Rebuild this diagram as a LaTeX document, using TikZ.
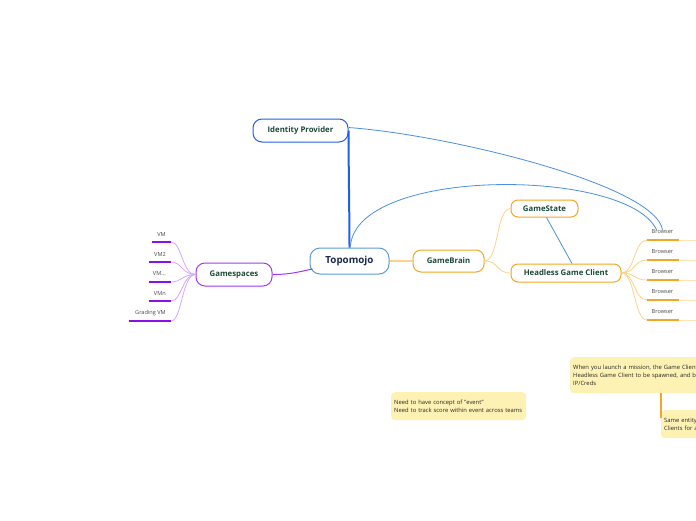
\documentclass[tikz,border=0pt]{standalone}
\usepackage{fontspec}
\setmainfont{Open Sans}
\definecolor{tgreen}{HTML}{1C4A3A}
\definecolor{tnavy}{HTML}{1B2A4E}
\definecolor{idblue}{HTML}{1F5FF0}
\definecolor{topoblue}{HTML}{5B9BD5}
\definecolor{lblue}{HTML}{4A90E2}
\definecolor{orng}{HTML}{F5A623}
\definecolor{lorng}{HTML}{FBD38D}
\definecolor{llorng}{HTML}{FDE3B8}
\definecolor{purp}{HTML}{A238F5}
\definecolor{dpurp}{HTML}{8A10E6}
\definecolor{lpurp}{HTML}{D9A6FF}
\definecolor{notey}{HTML}{FDF2B3}
\definecolor{leafgray}{HTML}{4A4A4A}
\begin{document}
\begin{tikzpicture}[x=1pt,y=-1pt,
  topic/.style={draw, fill=white, line width=1pt, rounded corners=8pt, inner sep=0pt,
    font=\bfseries\fontsize{7.8}{9}\selectfont, text=tgreen},
  leaf/.style={inner sep=0pt, font=\fontsize{5.6}{7}\selectfont, text=leafgray},
  note/.style={fill=notey, rounded corners=4pt, anchor=north west, align=left,
    inner xsep=3pt, inner ysep=0pt, font=\fontsize{5.85}{8}\selectfont, text=black!85},
  bline/.style={draw=orng, line width=1.5pt},
  bline2/.style={draw=llorng, line width=1pt},
  vline/.style={draw=dpurp, line width=1.3pt}
]
\useasboundingbox (0,0) rectangle (696,520);
\clip (0,0) rectangle (696,520);
\fill[white] (0,0) rectangle (696,520);

% main nodes
\node[topic, draw=topoblue, minimum width=79pt, minimum height=26pt, rounded corners=10pt,
  font=\bfseries\fontsize{9.8}{11}\selectfont, text=tnavy] (topo) at (349.5,261) {Topomojo};
\node[topic, draw=idblue, minimum width=95pt, minimum height=23pt, rounded corners=9pt] (idp) at (300.5,130.5) {Identity Provider};
\node[topic, draw=orng, minimum width=71pt, minimum height=22pt, rounded corners=8pt] (gb) at (448.5,261) {GameBrain};
\node[topic, draw=orng, minimum width=67pt, minimum height=17pt, rounded corners=7pt] (gs) at (544.5,208.5) {GameState};
\node[topic, draw=orng, minimum width=110pt, minimum height=18pt, rounded corners=7pt] (hgc) at (566,273) {Headless Game Client};
\node[topic, draw=purp, minimum width=76pt, minimum height=23pt, rounded corners=9pt] (gsp) at (234,274.5) {Gamespaces};

% VM leaves
\node[leaf, anchor=east] (v1) at (166,234) {VM};
\node[leaf, anchor=east] (v2) at (166,254) {VM2};
\node[leaf, anchor=east] (v3) at (166,274) {VM...};
\node[leaf, anchor=east] (v4) at (166,293) {VMn};
\node[leaf, anchor=east] (v5) at (166,313) {Grading VM};
\coordinate (v1a) at (152,242); \coordinate (v1b) at (171,242);
\coordinate (v2a) at (149,262); \coordinate (v2b) at (171,262);
\coordinate (v3a) at (149,282); \coordinate (v3b) at (171,282);
\coordinate (v4a) at (149,301); \coordinate (v4b) at (171,301);
\coordinate (v5a) at (129,321); \coordinate (v5b) at (171,321);
\foreach \i in {1,...,5}{
  \draw[lpurp, line width=0.8pt] (gsp.west) .. controls (182,274.5) and (182,0|-v\i b) .. (v\i b);
  \draw[vline] (v\i a) -- (v\i b);
}

% Browser leaves
\foreach \i/\y in {1/232,2/252,3/272,4/292,5/312}{
  \node[leaf] (b\i) at (662.5,\y) {Browser};
  \coordinate (b\i a) at (647,\y+8);
  \coordinate (b\i b) at (679,\y+8);
  \coordinate (b\i c) at (700,\y+8);
  \draw[lorng, line width=0.8pt] (hgc.east) .. controls (635,273) and (634,\y+8) .. (b\i a);
  \draw[bline] (b\i a) -- (b\i b);
  \draw[bline2] (b\i b) -- (b\i c);
}

% connectors
\draw[idblue, line width=2pt] (idp.east) .. controls (348.5,160) and (349.5,220) .. (topo.north);
\draw[purp, line width=1pt] (gsp.east) .. controls (290,274.5) and (298,272) .. ([xshift=3pt,yshift=-8pt]topo.west);
\draw[lorng, line width=1.5pt] (topo.east) -- (gb.west);
\draw[lorng, line width=0.8pt] (gb.east) .. controls (499,261) and (496,208.5) .. (gs.west);
\draw[lorng, line width=0.8pt] (gb.east) .. controls (499,261) and (496,273) .. (hgc.west);
\draw[lblue, line width=0.8pt] ([xshift=2pt]gs.south) -- ([xshift=6pt]hgc.north);
\draw[lblue, line width=0.8pt] ([yshift=3pt]idp.east) .. controls (450,135) and (655,185) .. ([xshift=0pt]b1.north);
\draw[lblue, line width=0.8pt] ([xshift=1pt,yshift=2pt]topo.north) .. controls (358,166) and (628,168) .. ([xshift=-6pt]b1.north);

% notes
\node[note, minimum width=135pt, minimum height=28pt, text width=129pt] (n1) at (391,392)
  {Need to have concept of "event"\\Need to track score within event across teams};
\node[note, minimum width=150pt, minimum height=36pt, text width=144pt] (n2) at (570,357)
  {When you launch a mission, the Game Client\\Headless Game Client to be spawned, and b\\IP/Creds};
\node[note, minimum width=60pt, minimum height=28pt, text width=54pt] (n3) at (661,410)
  {Same entity\\Clients for a};
\draw[orng, line width=1.2pt] (n2.south -| n3.west) -- ([yshift=6pt]n3.west);
\end{tikzpicture}
\end{document}
